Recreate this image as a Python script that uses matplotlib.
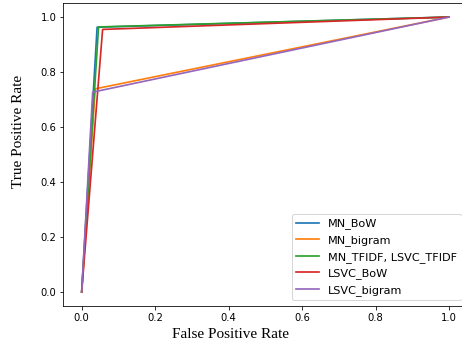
import matplotlib
matplotlib.use("Agg")
import matplotlib.pyplot as plt

labels = ["MN_BoW", "MN_bigram", "MN_TFIDF, LSVC_TFIDF", "LSVC_BoW", "LSVC_bigram"]
fpr = [
    [0.0, 0.042, 1.0],
    [0.0, 0.037, 1.0],
    [0.0, 0.046, 1.0],
    [0.0, 0.057, 1.0],
    [0.0, 0.030, 1.0],
]
tpr = [
    [0.0, 0.963, 1.0],
    [0.0, 0.739, 1.0],
    [0.0, 0.964, 1.0],
    [0.0, 0.955, 1.0],
    [0.0, 0.727, 1.0],
]
colors = ["#1f77b4", "#ff7f0e", "#2ca02c", "#d62728", "#9467bd"]

W, H = 462, 347
fig = plt.figure(figsize=(W / 72, H / 72), dpi=72)
left, right, top, bottom = 63.3, 467.4, 3.3, 305.8
aw, ah = right - left, bottom - top
ax = fig.add_axes([left / W, 1 - bottom / H, aw / W, ah / H])

for f, t, lab, c in zip(fpr, tpr, labels, colors):
    ax.plot(f, t, color=c, label=lab, lw=1.7)

ax.set_xlabel("False Positive Rate", family="Liberation Serif", fontsize=15.2, va="center")
ax.set_ylabel("True Positive Rate", family="Liberation Serif", fontsize=15.2, va="center")
ax.xaxis.set_label_coords((231 - left) / aw, (bottom - 335) / ah)
ax.yaxis.set_label_coords((18 - left) / aw, (bottom - 131) / ah)
ax.legend(loc="lower right", fontsize=11.3)
fig.savefig("out.png", dpi=72)
